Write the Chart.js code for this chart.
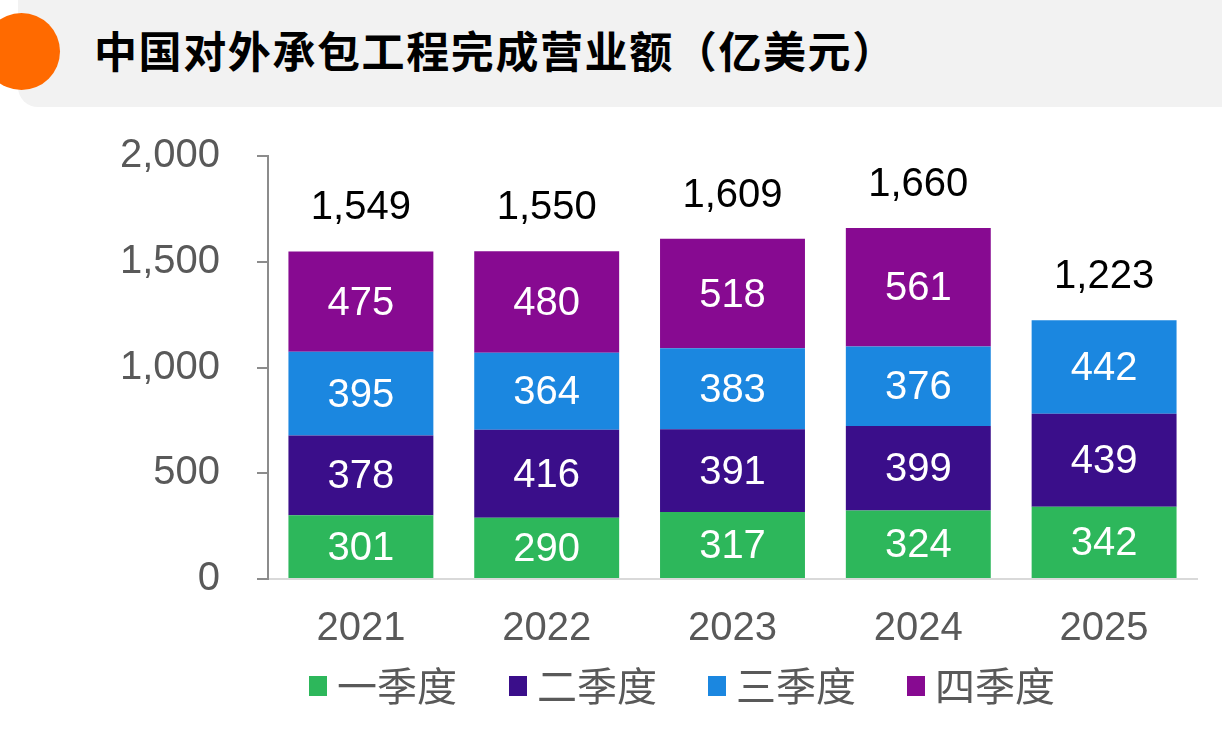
<!DOCTYPE html>
<html>
<head>
<meta charset="utf-8">
<script src="https://cdn.jsdelivr.net/npm/chart.js@4"></script>
<style>
  html, body { margin: 0; padding: 0; background: #fff; }
  body { width: 1222px; height: 741px; position: relative; overflow: hidden; }
  .title-bar {
    position: absolute; left: 18px; top: -20px; width: 1224px; height: 127px;
    background: #f2f2f2; border-radius: 20px;
  }
  .dot {
    position: absolute; left: -17px; top: 13px; width: 77px; height: 77px;
    border-radius: 50%; background: #ff6a00;
  }
  .title {
    position: absolute; left: 94px; top: 23px;
    font-family: "Noto Sans CJK SC", sans-serif; font-weight: 700;
    font-size: 43px; line-height: 52px; letter-spacing: 1.6px; color: #000;
  }
  #wrap { position: absolute; left: 0; top: 0; width: 1222px; height: 741px; }
  .legend {
    position: absolute; top: 664px; left: 0; height: 44px;
    font-family: "Noto Sans CJK SC", sans-serif; font-size: 40px; line-height: 44px; color: #595959;
  }
  .legend-item { position: absolute; top: 0; white-space: nowrap; }
  .legend-swatch { position: absolute; top: 12px; width: 18px; height: 20px; }
  .legend-name { position: absolute; top: -2px; }
</style>
</head>
<body>
<div class="title-bar"></div>
<div class="dot"></div>
<div class="title">中国对外承包工程完成营业额（亿美元）</div>
<div id="wrap"><canvas id="chart" width="1222" height="741"></canvas></div>
<div class="legend" id="legend"></div>
<script>
  // ===== 数据 =====
  const years = ["2021", "2022", "2023", "2024", "2025"];
  const q1 = [301, 290, 317, 324, 342];
  const q2 = [378, 416, 391, 399, 439];
  const q3 = [395, 364, 383, 376, 442];
  const q4 = [475, 480, 518, 561, null];
  const seriesNames = ["一季度", "二季度", "三季度", "四季度"];
  const seriesColors = ["#2db75b", "#3a0e8a", "#1b87e0", "#870a91"];
  const yTicks = [0, 500, 1000, 1500, 2000];

  const numFont = '"Liberation Sans", Arial, sans-serif';
  const fmt = v => Number(v).toLocaleString("en-US");

  // 自定义数值标签（不依赖 datalabels 插件）
  const valueLabels = {
    id: "valueLabels",
    afterDatasetsDraw(chart) {
      const ctx = chart.ctx;
      ctx.save();
      ctx.font = "40px " + numFont;
      ctx.textAlign = "center";
      ctx.textBaseline = "middle";
      const tops = [];
      chart.data.datasets.forEach((ds, di) => {
        const meta = chart.getDatasetMeta(di);
        meta.data.forEach((bar, i) => {
          const v = ds.data[i];
          if (v == null) return;
          ctx.fillStyle = "#ffffff";
          ctx.fillText(fmt(v), bar.x, (bar.y + bar.base) / 2 + 2);
          if (tops[i] == null || bar.y < tops[i].y) tops[i] = { x: bar.x, y: bar.y };
        });
      });
      ctx.fillStyle = "#000000";
      tops.forEach((t, i) => {
        const total = chart.data.datasets.reduce((s, ds) => s + (Number(ds.data[i]) || 0), 0);
        ctx.fillText(fmt(total), t.x, t.y - 43);
      });
      ctx.restore();
    }
  };

  const chart = new Chart(document.getElementById("chart").getContext("2d"), {
    type: "bar",
    data: {
      labels: years,
      datasets: [q1, q2, q3, q4].map((d, i) => ({
        label: seriesNames[i],
        data: d,
        backgroundColor: seriesColors[i],
        borderWidth: 0,
        barPercentage: 0.78,
        categoryPercentage: 1
      }))
    },
    options: {
      responsive: false,
      animation: false,
      layout: { padding: { top: 156, right: 25, bottom: 0, left: 0 } },
      plugins: { legend: { display: false }, tooltip: { enabled: false } },
      scales: {
        x: {
          stacked: true,
          grid: { display: false, drawTicks: false },
          border: { color: "#d9d9d9", width: 2 },
          ticks: { color: "#595959", font: { family: numFont, size: 40 }, padding: 26 },
          afterFit: s => { s.height = 162; }
        },
        y: {
          stacked: true,
          min: 0, max: 2000,
          afterBuildTicks: s => { s.ticks = yTicks.map(v => ({ value: v })); },
          grid: { drawOnChartArea: false, drawTicks: true, tickLength: 11, color: "#8c8c8c", lineWidth: 2 },
          border: { color: "#8c8c8c", width: 2 },
          ticks: { color: "#595959", font: { family: numFont, size: 40 }, padding: 37, callback: v => fmt(v) },
          afterFit: s => { s.width = 268; }
        }
      }
    },
    plugins: [valueLabels]
  });

  // ===== 图例 =====
  const legendX = [309, 509, 708, 907];
  document.getElementById("legend").innerHTML = seriesNames.map((name, i) => `
    <div class="legend-item" style="left:${legendX[i]}px">
      <span class="legend-swatch" style="left:0;background:${seriesColors[i]}"></span>
      <span class="legend-name" style="left:28px">${name}</span>
    </div>`).join("");
</script>
</body>
</html>
